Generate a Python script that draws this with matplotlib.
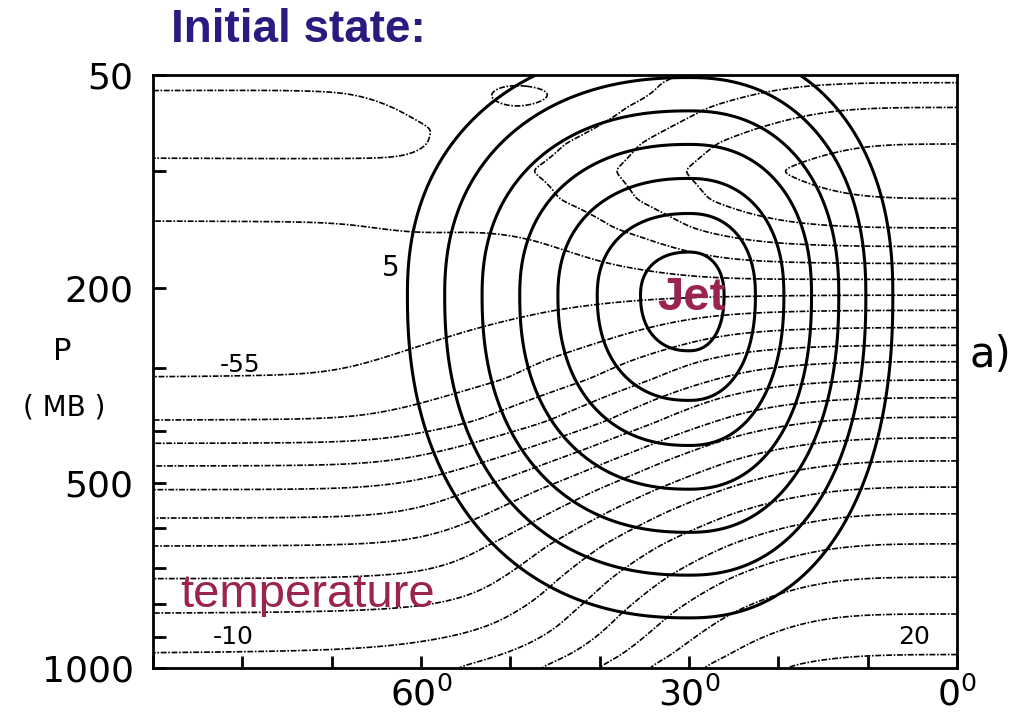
import numpy as np
import matplotlib
matplotlib.use("Agg")
import matplotlib.pyplot as plt

# ---------------- data ----------------
KAPPA = 0.2857                      # vertical axis is p**kappa
P_TICKS = [100, 200, 300, 400, 500, 600, 700, 800, 900]
P_LABELS = [50, 200, 500, 1000]
LAT_TICKS = [90, 80, 70, 60, 50, 40, 30, 20, 10, 0]
LAT_LABELS = [60, 30, 0]

# zonal jet (solid contours, 5 m/s interval)
JET_LEVELS = [5, 10, 15, 20, 25, 30, 35]
JET_PEAK = 38.0          # m/s
JET_LAT = 30.0           # deg N
JET_P = 208.0            # mb
JET_HALFWIDTH_POLE = 31.5    # deg, to the 5 m/s contour
JET_HALFWIDTH_EQ = 22.8      # deg
JET_HALFDEPTH_UP = 1.75      # p**kappa units, to the 5 m/s contour
JET_HALFDEPTH_DOWN = 2.25

# temperature (dashed contours, 5 C interval), read at the two edges
EQ_P = [50, 53, 64, 83, 100, 120, 143, 159, 175, 191, 208, 225, 246, 269, 291,
        318, 345, 377, 413, 456, 509, 567, 638, 724, 828, 956, 1000]
EQ_T = [-68, -70, -75, -80, -82, -80, -75, -70, -65, -60, -55, -50, -45, -40, -35,
        -30, -25, -20, -15, -10, -5, 0, 5, 10, 15, 20, 22]
POLE_P = [50, 56, 75, 92, 136, 230, 315, 383, 423, 466, 514, 577, 643, 728, 825, 949, 1000]
POLE_T = [-63, -65, -67, -65, -60, -57, -55, -50, -45, -40, -35, -30, -25, -20, -15, -10, -8]
T_LEVELS = list(range(-85, 30, 5))
POLAR_COOLING_LAT = 55.0     # stratospheric cold cap edge (deg)

# ---------------- fields ----------------
def sk(p):
    return np.asarray(p, dtype=float) ** KAPPA


def smooth(f, sigma_pts, axis):
    if sigma_pts <= 0:
        return f
    r = int(3 * sigma_pts)
    k = np.exp(-0.5 * (np.arange(-r, r + 1) / sigma_pts) ** 2)
    k /= k.sum()
    pad = [(0, 0)] * f.ndim
    pad[axis] = (r, r)
    g = np.pad(f, pad, mode='edge')
    return np.apply_along_axis(lambda v: np.convolve(v, k, mode='valid'), axis, g)


lat = np.linspace(0, 90, 451)
sv = np.linspace(sk(50), sk(1000), 420)
LAT, S = np.meshgrid(lat, sv)

dx = LAT - JET_LAT
Lx = np.where(dx > 0, JET_HALFWIDTH_POLE, JET_HALFWIDTH_EQ)
ds = S - sk(JET_P)
Ly = np.where(ds < 0, JET_HALFDEPTH_UP, JET_HALFDEPTH_DOWN)
n = 2.25
rho = (np.abs(dx / Lx) ** n + np.abs(ds / Ly) ** n) ** (1.0 / n)
r0 = 0.15
B = (JET_PEAK - JET_LEVELS[0]) / (np.sqrt(1 + r0 ** 2) - r0)
u_raw = JET_PEAK - B * (np.sqrt(rho ** 2 + r0 ** 2) - r0)
u = 0.5 * (u_raw + np.sqrt(u_raw ** 2 + 0.5))        # smooth clip at zero

# thermal wind balance for temperature, pinned to the edge profiles
a, Om, R = 6.371e6, 7.292e-5, 287.0
C = a * 2 * Om / R
phi = np.deg2rad(lat)
u_t = 0.5 * (u_raw + np.sqrt(u_raw ** 2 + 30.0))
u_t = smooth(smooth(u_t, 20, axis=1), 12, axis=0)
dudlnp = KAPPA * S * np.gradient(u_t, sv, axis=0)
integ = np.sin(phi)[None, :] * dudlnp
dphi = phi[1] - phi[0]
Ttw = C * np.concatenate([np.zeros((len(sv), 1)),
                          np.cumsum(0.5 * (integ[:, 1:] + integ[:, :-1]), axis=1) * dphi], axis=1)
Teq = smooth(np.interp(sv, sk(EQ_P), EQ_T), 2, axis=0)
Tpo = smooth(np.interp(sv, sk(POLE_P), POLE_T), 2, axis=0)
h = np.sin(phi) * u_t[np.argmin(np.abs(sv - sk(JET_P)))]
H_jet = np.concatenate([[0], np.cumsum(0.5 * (h[1:] + h[:-1]))])
H_jet = H_jet / H_jet[-1]
H_pol = 0.5 * (1 + np.tanh((lat - POLAR_COOLING_LAT) / 8.0))
H_pol = (H_pol - H_pol[0]) / (H_pol[-1] - H_pol[0])
wgt = 0.5 * (1 - np.tanh((sv - sk(170)) / 0.18))
Hc = wgt[:, None] * H_pol[None, :] + (1 - wgt[:, None]) * H_jet[None, :]
corr = Tpo - Teq - Ttw[:, -1]
T = Teq[:, None] + Ttw + corr[:, None] * Hc

# ---------------- figure ----------------
fig = plt.figure(figsize=(10.29, 7.16), dpi=100)
ax = fig.add_axes([153 / 1029, 1 - 668 / 716, (957 - 153) / 1029, (668 - 75) / 716])

ax.contour(LAT, S, T, levels=T_LEVELS, colors='black', linewidths=1.2,
           linestyles=[(0, (3.5, 1.0, 1, 1.0))])
ax.contour(LAT, S, u, levels=JET_LEVELS, colors='black', linewidths=2.2,
           linestyles='solid')

ax.set_xlim(90, 0)
ax.set_ylim(sk(1000), sk(50))

ax.set_xticks(LAT_TICKS)
ax.set_xticklabels([f"{v}$^0$" if v in LAT_LABELS else "" for v in LAT_TICKS])
yt = sorted(set(P_TICKS) | set(P_LABELS))
ax.set_yticks(sk(yt))
ax.set_yticklabels([str(v) if v in P_LABELS else "" for v in yt])
ax.tick_params(axis='both', direction='in', length=9, width=2, labelsize=26,
               top=False, right=False)
ax.tick_params(axis='y', pad=14)
ax.tick_params(axis='x', pad=6)
for sp in ax.spines.values():
    sp.set_linewidth(2)

tk = dict(fontsize=18, color='black', ha='center', va='center')
ax.text(80.2, sk(296), "-55", **tk)
ax.text(81.0, sk(899), "-10", **tk)
ax.text(4.8, sk(899), "20", **tk)
ax.text(63.4, sk(179), "5", fontsize=20, ha='center', va='center')

maroon = '#9B2350'
ax.text(29.7, sk(211), "Jet", fontsize=34, weight='bold', color=maroon,
        ha='center', va='center', family='Liberation Sans')
ax.text(87.0, sk(773), "temperature", fontsize=34, color=maroon,
        ha='left', va='center', family='Liberation Sans')

fig.text(298 / 1029, 1 - 30 / 716, "Initial state:", fontsize=33, weight='bold',
         color='#2B1A7F', ha='center', va='center', family='Liberation Sans')
fig.text(62 / 1029, 1 - 352 / 716, "P", fontsize=22, ha='center', va='center')
fig.text(64 / 1029, 1 - 407 / 716, "( MB )", fontsize=20, ha='center', va='center')
fig.text(990 / 1029, 1 - 355 / 716, "a)", fontsize=30, ha='center', va='center')

fig.savefig("out.png", dpi=100)
